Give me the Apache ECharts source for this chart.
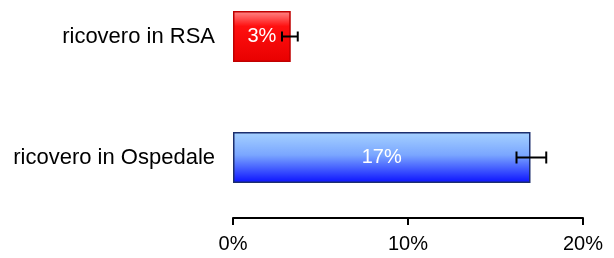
<!DOCTYPE html>
<html lang="it" style="height: 100%">
<head>
  <meta charset="utf-8">
  <style>
    body { margin: 0; background: #fff; }
    #chart { width: 614px; height: 258px; }
  </style>
</head>
<body>
  <div id="chart"></div>
  <script src="https://cdn.jsdelivr.net/npm/echarts@6/dist/echarts.min.js"></script>
  <script>
    // categories, bottom to top
    const categories = ['ricovero in Ospedale', 'ricovero in RSA'];
    const values = [17.0, 3.3];
    const errLow = [16.2, 2.8];
    const errHigh = [17.9, 3.7];
    const barLabels = ['17%', '3%'];

    const fills = [
      new echarts.graphic.LinearGradient(0, 0, 0, 1, [
        { offset: 0, color: '#a6d2ff' },
        { offset: 0.45, color: '#7aa6ff' },
        { offset: 1, color: '#0a10ff' }
      ]),
      new echarts.graphic.LinearGradient(0, 0, 0, 1, [
        { offset: 0, color: '#ff8a8a' },
        { offset: 0.3, color: '#ff1010' },
        { offset: 1, color: '#e80000' }
      ])
    ];
    const borders = ['#1c2f6e', '#c00000'];

    var chart = echarts.init(document.getElementById('chart'), null, { renderer: 'canvas' });

    var option = {
      animation: false,
      grid: { left: 233, right: 31, top: -24, bottom: 40, outerBoundsMode: 'none', containLabel: false },
      xAxis: {
        type: 'value',
        min: 0,
        max: 20,
        interval: 10,
        splitLine: { show: false },
        axisLine: { show: true, lineStyle: { color: '#000', width: 2 } },
        axisTick: { show: true, length: 7, lineStyle: { color: '#000', width: 2 } },
        axisLabel: {
          formatter: '{value}%',
          color: '#000',
          fontSize: 20,
          fontFamily: 'Liberation Sans, Arial',
          margin: 16
        }
      },
      yAxis: {
        type: 'category',
        data: categories,
        axisLine: { show: false },
        axisTick: { show: false },
        axisLabel: {
          color: '#000',
          fontSize: 22,
          fontFamily: 'Liberation Sans, Arial',
          margin: 18
        }
      },
      series: [
        {
          type: 'bar',
          barWidth: 51,
          data: values.map(function (v, i) {
            return {
              value: v,
              itemStyle: { color: fills[i], borderColor: borders[i], borderWidth: 1.5 }
            };
          }),
          label: {
            show: true,
            position: 'inside',
            color: '#fff',
            fontSize: 20,
            fontFamily: 'Liberation Sans, Arial',
            formatter: function (p) { return barLabels[p.dataIndex]; }
          },
          z: 2
        },
        {
          type: 'custom',
          data: categories.map(function (c, i) { return [errLow[i], errHigh[i], i]; }),
          renderItem: function (params, api) {
            var lo = api.coord([api.value(0), api.value(2)]);
            var hi = api.coord([api.value(1), api.value(2)]);
            var h = api.value(2) === 0 ? 6 : 5;
            var style = { stroke: '#000', lineWidth: 2 };
            return {
              type: 'group',
              children: [
                { type: 'line', shape: { x1: lo[0], y1: lo[1], x2: hi[0], y2: hi[1] }, style: style },
                { type: 'line', shape: { x1: lo[0], y1: lo[1] - h, x2: lo[0], y2: lo[1] + h }, style: style },
                { type: 'line', shape: { x1: hi[0], y1: hi[1] - h, x2: hi[0], y2: hi[1] + h }, style: style }
              ]
            };
          },
          z: 3
        }
      ]
    };
    chart.setOption(option);
  </script>
</body>
</html>
